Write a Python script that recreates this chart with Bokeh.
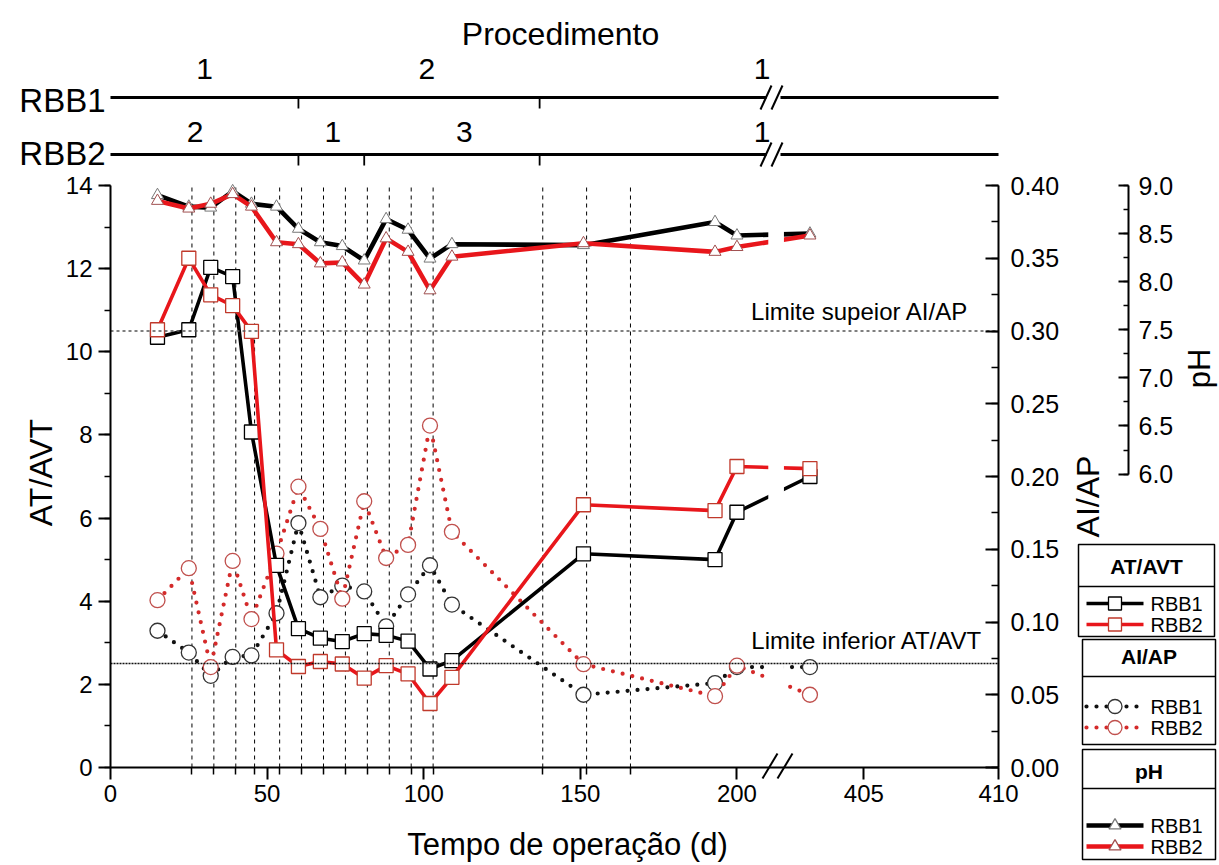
import math
from bokeh.plotting import figure
from bokeh.models import (Range1d, LinearAxis, FixedTicker, SingleIntervalTicker,
                          NumeralTickFormatter, Label)
from bokeh.embed import file_html
from bokeh.resources import INLINE
from bokeh.core.properties import value

FONT = "Liberation Sans"

# ---------------- data ----------------
days = [15, 25, 32, 39, 45, 53, 60, 67, 74, 81, 88, 95, 102, 109, 151, 193, 200, 403]

at_avt_rbb1 = [10.35, 10.53, 12.03, 11.81, 8.07, 4.86, 3.34, 3.11, 3.03, 3.22, 3.18, 3.04,
               2.37, 2.57, 5.14, 5.00, 6.14, 7.00]
at_avt_rbb2 = [10.53, 12.25, 11.37, 11.11, 10.49, 2.83, 2.43, 2.55, 2.49, 2.15, 2.45, 2.25,
               1.54, 2.17, 6.32, 6.18, 7.24, 7.19]

aiap_rbb1 = [0.094, 0.079, 0.063, 0.076, 0.077, 0.106, 0.168, 0.117, 0.125, 0.121, 0.097,
             0.119, 0.139, 0.112, 0.050, 0.058, 0.069, 0.069]
aiap_rbb2 = [0.115, 0.137, 0.069, 0.142, 0.102, 0.147, 0.193, 0.164, 0.116, 0.183, 0.144,
             0.153, 0.235, 0.162, 0.071, 0.049, 0.070, 0.050]

ph_rbb1 = [8.90, 8.78, 8.77, 8.94, 8.81, 8.78, 8.55, 8.41, 8.37, 8.22, 8.65, 8.54, 8.24,
           8.39, 8.38, 8.62, 8.48, 8.50]
ph_rbb2 = [8.84, 8.76, 8.81, 8.91, 8.78, 8.41, 8.39, 8.19, 8.20, 7.97, 8.45, 8.31, 7.91,
           8.26, 8.40, 8.31, 8.36, 8.48]

sample_days = [26, 33, 40, 46, 54, 61, 68, 75, 82, 89, 96, 103, 138, 152, 166]
x_tick_days = [0, 50, 100, 150, 200, 405, 410]

lim_sup_aiap = 0.30
lim_inf_atavt = 2.5

# procedure timeline
rbb1_changes = [60, 137]
rbb2_changes = [60, 81, 137]
rbb1_proc_labels = ["1", "2", "1"]
rbb1_proc_days = [30, 101, 208]
rbb2_proc_labels = ["2", "1", "3", "1"]
rbb2_proc_days = [27, 71, 113, 208]

# ---------------- broken x axis mapping ----------------
SEG2_START_DAY = 300          # days beyond this belong to the right segment
SEG2_REF_DAY, SEG2_REF_POS, SEG2_SCALE = 405, 240.5, 8.6


def xpos(d):
    return d if d < SEG2_START_DAY else SEG2_REF_POS + (d - SEG2_REF_DAY) * SEG2_SCALE


X_END = xpos(410)
GAP = (210.0, 215.0)
xs = [xpos(d) for d in days]

# ---------------- page geometry ----------------
PAGE_W, PAGE_H = 1218, 864
FL, FR, FT, FB = 110, 998, 185, 767      # plot area on the page
KX = (FR - FL) / X_END


def ext_range(v_bottom, v_top):
    k = (v_top - v_bottom) / (FB - FT)
    return Range1d(v_bottom - (PAGE_H - FB) * k, v_top + FT * k)


RED = "#e8161b"
RED_MK = "#c0392b"
RED_DOT = "#d42a2a"
RED_CIRC = "#c0504d"
TRI_K = "#777777"
TRI_R = "#a05050"

p = figure(width=PAGE_W, height=PAGE_H,
           x_range=Range1d(-FL / KX, (PAGE_W - FL) / KX), y_range=ext_range(0, 14),
           min_border_left=0, min_border_right=0, min_border_top=0, min_border_bottom=0,
           x_axis_type=None, y_axis_type=None,
           toolbar_location=None, output_backend="svg", outline_line_color=None)
p.grid.visible = False
p.extra_y_ranges = {"aiap": ext_range(0, 0.40), "ph": ext_range(2.95, 9.0),
                    "page": Range1d(PAGE_H, 0)}
p.extra_x_ranges = {"page": Range1d(0, PAGE_W)}
PG = dict(x_range_name="page", y_range_name="page")


def style_axis(ax, size="24px"):
    ax.axis_line_width = 2
    ax.major_tick_line_width = 2
    ax.minor_tick_line_width = 1.5
    ax.major_label_text_font = FONT
    ax.major_label_text_font_size = size
    ax.major_label_text_color = "black"
    ax.axis_line_color = "black"
    ax.major_tick_line_color = "black"
    ax.minor_tick_line_color = "black"


xa = LinearAxis(fixed_location=0, bounds=(0, X_END),
                ticker=FixedTicker(ticks=[xpos(d) for d in x_tick_days],
                                   minor_ticks=[xpos(d) for d in sample_days]))
style_axis(xa)
xa.major_label_overrides = {xpos(d): str(d) for d in x_tick_days}
xa.major_tick_out, xa.major_tick_in = 12, 0
xa.minor_tick_out, xa.minor_tick_in = 7, 0
xa.major_label_standoff = 5
p.add_layout(xa, "below")

ya = LinearAxis(fixed_location=0, bounds=(0, 14),
                ticker=SingleIntervalTicker(interval=2, num_minor_ticks=2))
style_axis(ya)
ya.major_tick_out, ya.major_tick_in = 12, 0
ya.minor_tick_out, ya.minor_tick_in = 6, 0
ya.major_label_standoff = 6
p.add_layout(ya, "left")

ax2 = LinearAxis(y_range_name="aiap", fixed_location=X_END, bounds=(0, 0.40),
                 ticker=SingleIntervalTicker(interval=0.05, num_minor_ticks=2),
                 formatter=NumeralTickFormatter(format="0.00"))
style_axis(ax2, "25px")
ax2.major_tick_in, ax2.major_tick_out = 13, 0
ax2.minor_tick_in, ax2.minor_tick_out = 7, 0
ax2.major_label_standoff = 12
p.add_layout(ax2, "right")

ax3 = LinearAxis(y_range_name="ph", x_range_name="page", fixed_location=1128, bounds=(6, 9),
                 ticker=SingleIntervalTicker(interval=0.5, num_minor_ticks=2),
                 formatter=NumeralTickFormatter(format="0.0"))
style_axis(ax3, "25px")
ax3.major_tick_in, ax3.major_tick_out = 10, 0
ax3.minor_tick_in, ax3.minor_tick_out = 5, 0
ax3.major_label_standoff = 10
p.add_layout(ax3, "right")

# vertical sampling lines
sx_lines = [xpos(d) for d in sample_days]
p.segment(x0=sx_lines, y0=[0] * len(sx_lines), x1=sx_lines, y1=[14] * len(sx_lines),
          line_color="black", line_width=1, line_dash="4 4", level="underlay")

# ---- series ----
DOT = dict(line_width=4.2, line_dash="0 10", line_cap="round")
p.line(xs, aiap_rbb1, y_range_name="aiap", line_color="#111111", **DOT)
p.scatter(xs, aiap_rbb1, y_range_name="aiap", marker="circle", size=15,
          fill_color="white", line_color="#333333", line_width=1.3)
p.line(xs, aiap_rbb2, y_range_name="aiap", line_color=RED_DOT, **DOT)
p.scatter(xs, aiap_rbb2, y_range_name="aiap", marker="circle", size=15,
          fill_color="white", line_color=RED_CIRC, line_width=1.3)

p.line(xs, at_avt_rbb1, line_color="black", line_width=3.6)
p.scatter(xs, at_avt_rbb1, marker="square", size=14, fill_color="white",
          line_color="black", line_width=1.3)
p.line(xs, at_avt_rbb2, line_color=RED, line_width=3.6)
p.scatter(xs, at_avt_rbb2, marker="square", size=14, fill_color="white",
          line_color=RED_MK, line_width=1.3)

p.line(xs, ph_rbb1, y_range_name="ph", line_color="black", line_width=4.6)
p.scatter(xs, ph_rbb1, y_range_name="ph", marker="triangle", size=12,
          fill_color="white", line_color=TRI_K, line_width=1)
p.line(xs, ph_rbb2, y_range_name="ph", line_color=RED, line_width=4.6)
p.scatter(xs, ph_rbb2, y_range_name="ph", marker="triangle", size=12,
          fill_color="white", line_color=TRI_R, line_width=1)

# gap in the curves at the axis break
p.quad(left=GAP[0], right=GAP[1], bottom=0.05, top=13.95, fill_color="white", line_color=None)

# limit lines
p.segment(x0=[0], y0=[lim_sup_aiap], x1=[X_END], y1=[lim_sup_aiap], y_range_name="aiap",
          line_color="#555555", line_width=1.5, line_dash="3 3")
p.segment(x0=[0], y0=[lim_inf_atavt], x1=[X_END], y1=[lim_inf_atavt],
          line_color="#111111", line_width=1.5, line_dash="2 1")


def label(x, y, text, size, align="center", baseline="middle", angle=0.0, bold=False, **kw):
    p.add_layout(Label(x=x, y=y, text=text, text_align=align, text_baseline=baseline,
                       angle=angle, text_font=FONT, text_font_size=size, text_color="black",
                       text_font_style="bold" if bold else "normal", **kw))


label(968, 311, "Limite supeior AI/AP", "24px", align="right", **PG)
label(982, 640, "Limite inferior AT/AVT", "24px", align="right", **PG)

# break marks on the x axis
p.segment(x0=[762, 777], y0=[778, 778], x1=[777, 792], y1=[753, 753],
          line_color="black", line_width=2, **PG)

# axis titles
label(567, 844, "Tempo de operação (d)", "31px", **PG)
label(40, 472, "AT/AVT", "32px", angle=math.pi / 2, **PG)
label(1087, 496, "AI/AP", "32px", angle=math.pi / 2, **PG)
label(1199, 368, "pH", "31px", angle=math.pi / 2, **PG)

# ---------------- legend boxes ----------------
G0, G1, TX = 1086, 1143, 1150
legend_defs = [
    # title, box left, right, top, divider, bottom, header y, row ys
    ("AT/AVT", 1078, 1214, 544, 586, 636, 566, (603, 624)),
    ("AI/AP", 1082, 1215, 639, 676, 744, 656, (706, 727)),
    ("pH", 1082, 1215, 749, 788, 859, 771, (825, 846)),
]
legend_styles = [
    [dict(line_color="black", line_width=3.6, marker="square", mk_line="black"),
     dict(line_color=RED, line_width=3.6, marker="square", mk_line=RED_MK)],
    [dict(line_color="#111111", line_width=4.2, line_dash="0 10", line_cap="round",
          marker="circle", mk_line="#333333"),
     dict(line_color=RED_DOT, line_width=4.2, line_dash="0 10", line_cap="round",
          marker="circle", mk_line=RED_CIRC)],
    [dict(line_color="black", line_width=4.6, marker="triangle", mk_line=TRI_K),
     dict(line_color=RED, line_width=4.6, marker="triangle", mk_line=TRI_R)],
]
series_names = ["RBB1", "RBB2"]
mk_size = {"square": 13, "circle": 14, "triangle": 12}

for (title, l, r, t, dv, b, hy, rows), styles in zip(legend_defs, legend_styles):
    p.quad(left=[l], right=[r], top=[t], bottom=[b], fill_color=None,
           line_color="black", line_width=1.5, **PG)
    p.segment(x0=[l], y0=[dv], x1=[r], y1=[dv], line_color="black", line_width=1.5, **PG)
    label((l + r) / 2, hy, title, "21px", bold=True, **PG)
    for name, ry, st in zip(series_names, rows, styles):
        st = dict(st)
        marker = st.pop("marker")
        mk_line = st.pop("mk_line")
        p.line([G0, G1], [ry, ry], **st, **PG)
        p.scatter([(G0 + G1) / 2], [ry], marker=marker, size=mk_size[marker],
                  fill_color="white", line_color=mk_line, line_width=1.3, **PG)
        label(TX, ry, name, "20px", align="left", **PG)

# ---------------- procedure timeline ----------------
Y1, Y2 = 97, 154
for yl, changes in ((Y1, rbb1_changes), (Y2, rbb2_changes)):
    p.line([0, X_END], [yl, yl], line_color="black", line_width=3, y_range_name="page")
    p.segment(x0=changes, y0=[yl] * len(changes), x1=changes, y1=[yl + 11] * len(changes),
              line_color="black", line_width=1.8, y_range_name="page")
    p.quad(left=[766], right=[780], bottom=[yl + 4], top=[yl - 4],
           fill_color="white", line_color=None, **PG)
    p.segment(x0=[760, 771], y0=[yl + 12, yl + 12], x1=[771, 782], y1=[yl - 12, yl - 12],
              line_color="black", line_width=2, **PG)

p.text(x=rbb1_proc_days, y=[68] * len(rbb1_proc_days), text=rbb1_proc_labels,
       y_range_name="page", text_font=value(FONT), text_font_size="30px",
       text_align="center", text_baseline="middle", text_color="black")
p.text(x=rbb2_proc_days, y=[131] * len(rbb2_proc_days), text=rbb2_proc_labels,
       y_range_name="page", text_font=value(FONT), text_font_size="30px",
       text_align="center", text_baseline="middle", text_color="black")
label(560, 33, "Procedimento", "32px", **PG)
label(105, 100, "RBB1", "33px", align="right", **PG)
label(105, 153, "RBB2", "33px", align="right", **PG)

open("out.html", "w").write(file_html(p, INLINE))
